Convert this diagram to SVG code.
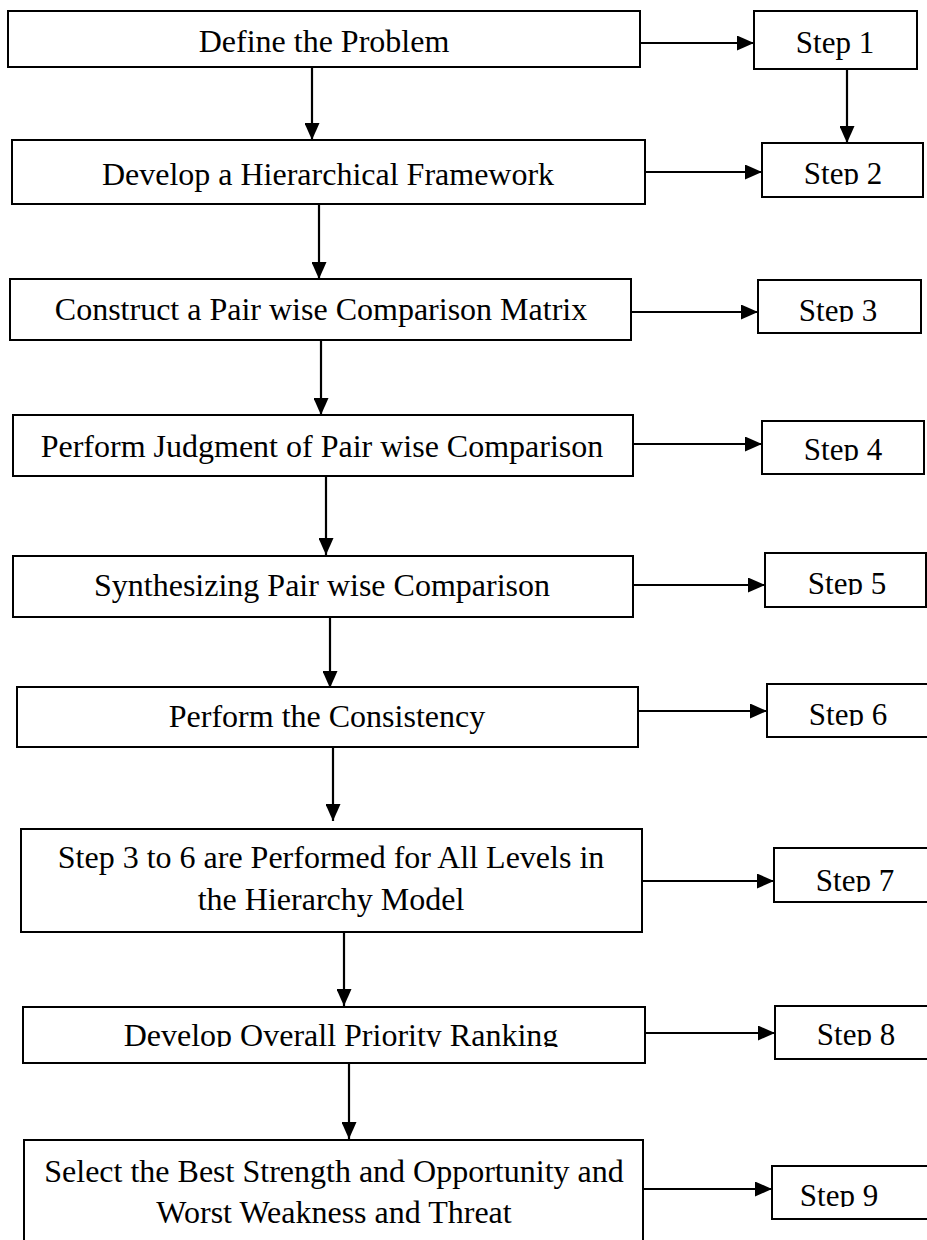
<svg xmlns="http://www.w3.org/2000/svg" width="927" height="1240" viewBox="0 0 927 1240">
<style>
.box{fill:#fff;stroke:#000;stroke-width:2}
.t{font-family:'Liberation Serif','DejaVu Serif',serif;font-size:32px;fill:#000;text-anchor:middle}
.s{font-family:'Liberation Serif','DejaVu Serif',serif;font-size:31px;fill:#000;text-anchor:middle}
.c{stroke:#000;stroke-width:2.2;fill:none;marker-end:url(#ah)}
</style>
<defs>
<marker id="ah" markerUnits="userSpaceOnUse" markerWidth="17" markerHeight="15" refX="17" refY="7.5" orient="auto">
<path d="M0,0 L17,7.5 L0,15 z" fill="#000"/>
</marker>
<clipPath id="c2" clipPathUnits="userSpaceOnUse"><rect x="760" y="140" width="170" height="45"/></clipPath>
<clipPath id="c3" clipPathUnits="userSpaceOnUse"><rect x="756" y="278" width="170" height="44"/></clipPath>
<clipPath id="c4" clipPathUnits="userSpaceOnUse"><rect x="760" y="418" width="170" height="43"/></clipPath>
<clipPath id="c5" clipPathUnits="userSpaceOnUse"><rect x="763" y="550" width="170" height="45"/></clipPath>
<clipPath id="c6" clipPathUnits="userSpaceOnUse"><rect x="765" y="682" width="170" height="44"/></clipPath>
<clipPath id="c7" clipPathUnits="userSpaceOnUse"><rect x="772" y="846" width="160" height="46"/></clipPath>
<clipPath id="c8" clipPathUnits="userSpaceOnUse"><rect x="773" y="1004" width="160" height="42"/></clipPath>
<clipPath id="c9" clipPathUnits="userSpaceOnUse"><rect x="770" y="1164" width="160" height="43"/></clipPath>
<clipPath id="cb8" clipPathUnits="userSpaceOnUse"><rect x="22" y="1005" width="622" height="42"/></clipPath>
</defs>

<g id="connectors">
<line class="c" x1="640" y1="43" x2="754" y2="43"/>
<line class="c" x1="312" y1="67" x2="312" y2="140"/>
<line class="c" x1="847" y1="69" x2="847" y2="143"/>
<line class="c" x1="645" y1="172" x2="762" y2="172"/>
<line class="c" x1="319" y1="204" x2="319" y2="279"/>
<line class="c" x1="631" y1="312" x2="758" y2="312"/>
<line class="c" x1="321" y1="340" x2="321" y2="415"/>
<line class="c" x1="633" y1="444" x2="762" y2="444"/>
<line class="c" x1="326" y1="476" x2="326" y2="555"/>
<line class="c" x1="633" y1="585" x2="765" y2="585"/>
<line class="c" x1="330" y1="612" x2="330" y2="688"/>
<line class="c" x1="638" y1="711" x2="767" y2="711"/>
<line class="c" x1="333" y1="747" x2="333" y2="821"/>
<line class="c" x1="642" y1="881" x2="774" y2="881"/>
<line class="c" x1="344" y1="932" x2="344" y2="1006"/>
<line class="c" x1="642" y1="1033" x2="775" y2="1033"/>
<line class="c" x1="349" y1="1063" x2="349" y2="1139"/>
<line class="c" x1="643" y1="1189" x2="772" y2="1189"/>
</g>

<g id="n1"><rect class="box" x="8" y="11" width="632" height="56"/><text class="t" x="324" y="52">Define the Problem</text></g>
<g id="s1"><rect class="box" x="754" y="11" width="163" height="58"/><text class="s" x="835" y="53">Step 1</text></g>

<g id="n2"><rect class="box" x="12" y="140" width="633" height="64"/><text class="t" x="328" y="185">Develop a Hierarchical Framework</text></g>
<g id="s2"><rect class="box" x="762" y="143" width="161" height="54"/><text class="s" x="843" y="184" clip-path="url(#c2)">Step 2</text></g>

<g id="n3"><rect class="box" x="10" y="279" width="621" height="61"/><text class="t" x="321" y="320">Construct a Pair wise Comparison Matrix</text></g>
<g id="s3"><rect class="box" x="758" y="280" width="163" height="53"/><text class="s" x="838" y="321" clip-path="url(#c3)">Step 3</text></g>

<g id="n4"><rect class="box" x="13" y="415" width="620" height="61"/><text class="t" x="322" y="457">Perform Judgment of Pair wise Comparison</text></g>
<g id="s4"><rect class="box" x="762" y="421" width="162" height="53"/><text class="s" x="843" y="460" clip-path="url(#c4)">Step 4</text></g>

<g id="n5"><rect class="box" x="13" y="556" width="620" height="61"/><text class="t" x="322" y="596">Synthesizing Pair wise Comparison</text></g>
<g id="s5"><rect class="box" x="765" y="553" width="161" height="54"/><text class="s" x="847" y="594" clip-path="url(#c5)">Step 5</text></g>

<g id="n6"><rect class="box" x="17" y="687" width="621" height="60"/><text class="t" x="327" y="727">Perform the Consistency</text></g>
<g id="s6"><rect class="box" x="767" y="684" width="165" height="53"/><text class="s" x="848" y="725" clip-path="url(#c6)">Step 6</text></g>

<g id="n7"><rect class="box" x="21" y="829" width="621" height="103"/><text class="t" x="331" y="868">Step 3 to 6 are Performed for All Levels in</text><text class="t" x="331" y="910">the Hierarchy Model</text></g>
<g id="s7"><rect class="box" x="774" y="848" width="160" height="54"/><text class="s" x="855" y="891" clip-path="url(#c7)">Step 7</text></g>

<g id="n8"><rect class="box" x="23" y="1007" width="622" height="56"/><text class="t" x="341" y="1046" clip-path="url(#cb8)">Develop Overall Priority Ranking</text></g>
<g id="s8"><rect class="box" x="775" y="1006" width="160" height="53"/><text class="s" x="856" y="1045" clip-path="url(#c8)">Step 8</text></g>

<g id="n9"><rect class="box" x="24" y="1140" width="619" height="110"/><text class="t" x="334" y="1182">Select the Best Strength and Opportunity and</text><text class="t" x="334" y="1223">Worst Weakness and Threat</text></g>
<g id="s9"><rect class="box" x="772" y="1166" width="160" height="53"/><text class="s" x="839" y="1206" clip-path="url(#c9)">Step 9</text></g>
</svg>
